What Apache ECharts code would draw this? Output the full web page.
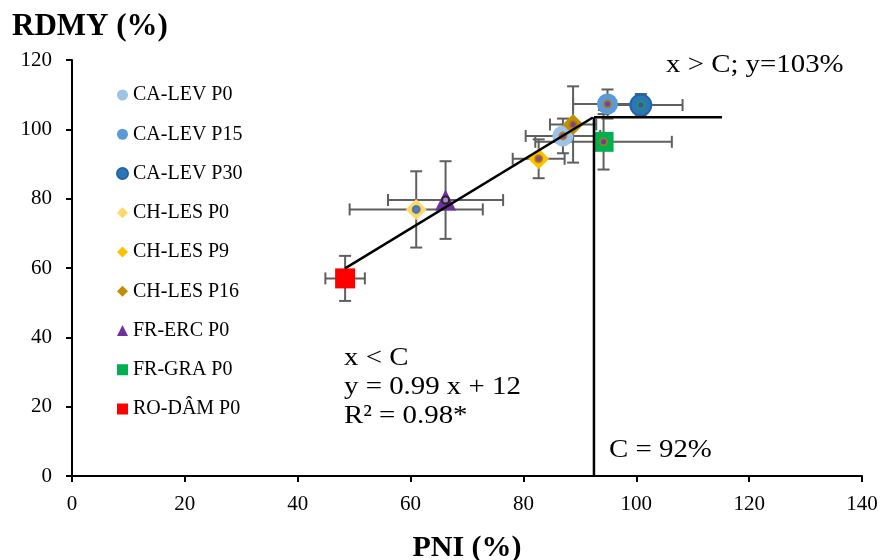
<!DOCTYPE html>
<html><head><meta charset="utf-8">
<script src="https://cdn.jsdelivr.net/npm/echarts@6/dist/echarts.min.js"></script>
<style>html,body{margin:0;padding:0;background:#fff}#c{width:885px;height:560px}</style>
</head><body><div id="c"></div>
<script>
// ---- data ----
const names = ['CA-LEV P0','CA-LEV P15','CA-LEV P30','CH-LES P0','CH-LES P9','CH-LES P16','FR-ERC P0','FR-GRA P0','RO-DÂM P0'];
const pni = [87.0, 94.9, 100.8, 61.0, 82.7, 88.8, 66.2, 94.2, 48.4];
const rdmy = [98.1, 107.3, 107.0, 76.9, 91.5, 101.4, 79.6, 96.4, 57.0];
const pniErr = [6.6, 6.1, 7.4, 11.8, 4.6, 4.1, 10.2, 12.1, 3.5];
const rdmyErr = [5.0, 4.2, 3.2, 11.0, 5.6, 11.0, 11.2, 8.0, 6.5];
const fitLine = [[48.4, 59.9], [92.3, 103.4]];
const plateauLine = [[92.5, 103.5], [115.2, 103.5]];
const breakLine = [[92.5, 103.5], [92.5, 0]];

// ---- styles ----
const colors = ['#9DC3E6','#5B9BD5','#2E75B6','#FFD966','#FFC000','#BF9000','#7030A0','#00B050','#FF0000'];
const symbols = ['circle','circle','circle','diamond','diamond','diamond','triangle','rect','rect'];
const sizes = [21, 21, 21, 21, 21, 21, 21, 20, 20];
const borders = [null, null, '#1F64A8', null, null, null, null, null, null];
const innerRing = ['#B07D10','#B07D10','#00B050','#2E75B6','#B07D10','#B07D10','#111111','#B07D10',null];
const innerFill = ['#7030A0','#7030A0','#7030A0','#4A5FB0','#7030A0','#7030A0','#B9A0D8','#7030A0',null];

const FONT = 'Liberation Serif';
const chart = echarts.init(document.getElementById('c'));

const series = [];
series.push({
  type: 'custom', name: 'err', z: 1, silent: true,
  data: names.map((n, i) => [pni[i], rdmy[i], pniErr[i], rdmyErr[i]]),
  renderItem(params, api) {
    const x = api.value(0), y = api.value(1), ex = api.value(2), ey = api.value(3);
    const c = api.coord([x, y]);
    const l = api.coord([x - ex, y]), r = api.coord([x + ex, y]);
    const t = api.coord([x, y + ey]), b = api.coord([x, y - ey]);
    const cap = 6;
    const style = { stroke: '#5F5F5F', lineWidth: 2 };
    const ln = (x1, y1, x2, y2) => ({ type: 'line', shape: { x1, y1, x2, y2 }, style });
    return { type: 'group', children: [
      ln(l[0], c[1], r[0], c[1]),
      ln(l[0], c[1] - cap, l[0], c[1] + cap),
      ln(r[0], c[1] - cap, r[0], c[1] + cap),
      ln(c[0], t[1], c[0], b[1]),
      ln(c[0] - cap, t[1], c[0] + cap, t[1]),
      ln(c[0] - cap, b[1], c[0] + cap, b[1])
    ]};
  }
});
names.forEach((n, i) => {
  series.push({
    type: 'scatter', name: n, z: 3,
    symbol: symbols[i], symbolSize: sizes[i],
    itemStyle: { color: colors[i], opacity: 1, borderColor: borders[i] || colors[i], borderWidth: borders[i] ? 2 : 0 },
    data: [[pni[i], rdmy[i]]]
  });
});
series.push({
  type: 'scatter', name: 'inner', z: 4, silent: true, symbolSize: 7,
  data: names.map((n, i) => innerRing[i] ? {
    value: [pni[i], rdmy[i]],
    itemStyle: { color: innerFill[i], borderColor: innerRing[i], borderWidth: 2 }
  } : null).filter(d => d)
});
[fitLine, plateauLine, breakLine].forEach((d, k) => {
  series.push({
    type: 'line', name: 'line' + k, z: 5, silent: true, symbol: 'none',
    lineStyle: { color: '#000', width: 2.5 }, data: d
  });
});

const annFont = '26px "Liberation Serif"';
const SX = 1.11;

chart.setOption({
  animation: false,
  backgroundColor: '#fff',
  textStyle: { fontFamily: FONT },
  title: {
    text: 'RDMY (%)', left: 7, top: 6,
    textStyle: { fontFamily: FONT, fontSize: 31, fontWeight: 'bold', color: '#000' }
  },
  legend: {
    orient: 'vertical', left: 116, top: 85, padding: 0,
    itemWidth: 11, itemHeight: 11, itemGap: 19.25,
    data: names,
    textStyle: { fontFamily: FONT, fontSize: 20, color: '#000' }
  },
  grid: { left: 72, right: 23, top: 60, bottom: 84, outerBoundsMode: 'none' },
  xAxis: {
    type: 'value', min: 0, max: 140, interval: 20,
    name: 'PNI (%)', nameLocation: 'middle', nameGap: 57,
    nameTextStyle: { fontFamily: FONT, fontSize: 30, fontWeight: 'bold', color: '#000' },
    axisLine: { show: true, onZero: false, lineStyle: { color: '#000', width: 2 } },
    axisTick: { show: true, length: 6, lineStyle: { color: '#000', width: 2 } },
    axisLabel: { fontFamily: FONT, fontSize: 21, color: '#000', margin: 18 },
    splitLine: { show: false }
  },
  yAxis: {
    type: 'value', min: 0, max: 120, interval: 20,
    axisLine: { show: true, onZero: false, lineStyle: { color: '#000', width: 2 } },
    axisTick: { show: true, length: 6, lineStyle: { color: '#000', width: 2 } },
    axisLabel: { fontFamily: FONT, fontSize: 21, color: '#000', margin: 20 },
    splitLine: { show: false }
  },
  graphic: [
    { type: 'text', x: 666, y: 51, scaleX: SX, style: { text: 'x > C; y=103%', font: annFont, lineHeight: 29, fill: '#000', verticalAlign: 'top' } },
    { type: 'text', x: 344, y: 344, scaleX: SX, style: { text: 'x < C\ny = 0.99 x + 12\nR² = 0.98*', font: annFont, lineHeight: 29, fill: '#000', verticalAlign: 'top' } },
    { type: 'text', x: 609, y: 436, scaleX: SX, style: { text: 'C = 92%', font: annFont, lineHeight: 29, fill: '#000', verticalAlign: 'top' } }
  ],
  series
});
</script></body></html>
